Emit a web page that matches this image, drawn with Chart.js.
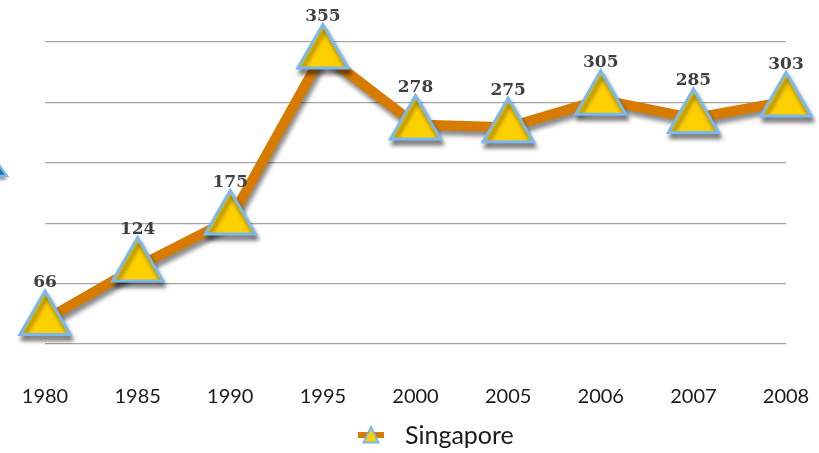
<!DOCTYPE html>
<html>
<head>
<meta charset="utf-8">
<script src="https://cdn.jsdelivr.net/npm/chart.js@4/dist/chart.umd.min.js"></script>
<style>
  html, body { margin: 0; padding: 0; background: #fff; }
  #wrap { width: 819px; height: 453px; }
</style>
</head>
<body>
<div id="wrap"><canvas id="singaporeChart"></canvas></div>
<script>
// data
var years = ["1980", "1985", "1990", "1995", "2000", "2005", "2006", "2007", "2008"];
var singapore = [66, 124, 175, 355, 278, 275, 305, 285, 303];
var gridValues = [40, 105.5, 171, 236.5, 302, 367.5];
var seriesName = "Singapore";

var shadowPlugin = {
  id: 'shadow',
  beforeDatasetsDraw: function(chart) {
    var c = chart.ctx;
    c.save();
    c.shadowColor = 'rgba(0,0,0,0.45)';
    c.shadowBlur = 4;
    c.shadowOffsetX = 2;
    c.shadowOffsetY = 5;
  },
  afterDatasetsDraw: function(chart) {
    chart.ctx.restore();
  }
};

var labelPlugin = {
  id: 'valueLabels',
  afterDatasetsDraw: function(chart) {
    var c = chart.ctx;
    var meta = chart.getDatasetMeta(0);
    c.save();
    c.font = 'bold 17px "DejaVu Serif"';
    c.fillStyle = '#404040';
    c.textAlign = 'center';
    c.textBaseline = 'middle';
    meta.data.forEach(function(pt, i) {
      c.fillText(singapore[i], pt.x, pt.y - 37);
    });
    c.restore();
  }
};

// legend drawn by hand: orange line with a small triangle, then the name
// (plus the clipped teal triangle that peeks in at the left edge)
var legendPlugin = {
  id: 'handLegend',
  afterDraw: function(chart) {
    var c = chart.ctx;
    c.save();
    c.shadowColor = 'rgba(0,0,0,0.4)';
    c.shadowBlur = 3;
    c.shadowOffsetY = 4;
    c.beginPath();
    c.moveTo(-12, 150); c.lineTo(7, 176); c.lineTo(-31, 176); c.closePath();
    c.fillStyle = '#1b7a9e'; c.fill();
    c.shadowColor = 'transparent';
    c.lineWidth = 2.5; c.strokeStyle = '#7ab8f0'; c.stroke();
    c.restore();

    var x = 358, y = 435;
    c.save();
    c.fillStyle = '#d67a00';
    c.fillRect(x, y - 3, 26, 6);
    c.beginPath();
    c.moveTo(x + 13, y - 8); c.lineTo(x + 20.5, y + 7.5); c.lineTo(x + 5.5, y + 7.5); c.closePath();
    c.fillStyle = '#ffd000'; c.fill();
    c.lineWidth = 2; c.strokeStyle = '#7ab8f0'; c.stroke();
    c.font = '25px Lato';
    c.fillStyle = '#1a1a1a';
    c.textBaseline = 'middle';
    c.fillText(seriesName, 405, y + 1);
    c.restore();
  }
};

var ctx = document.getElementById('singaporeChart').getContext('2d');
var chart = new Chart(ctx, {
  type: 'line',
  data: {
    labels: years,
    datasets: [{
      label: seriesName,
      data: singapore,
      borderColor: "#d67a00",
      borderWidth: 10,
      backgroundColor: "#ffd000",
      pointStyle: 'triangle',
      pointRadius: 29,
      pointHoverRadius: 29,
      pointBackgroundColor: "#ffd000",
      pointBorderColor: "#7ab8f0",
      pointBorderWidth: 3,
      tension: 0,
      fill: false,
      clip: false
    }]
  },
  options: {
    responsive: true,
    maintainAspectRatio: false,
    animation: false,
    events: [],
    layout: { autoPadding: false, padding: { top: 42, left: 45, right: 33, bottom: 41 } },
    scales: {
      x: {
        offset: false,
        grid: { display: true, drawOnChartArea: false, color: 'rgba(0,0,0,0)', drawTicks: true, tickLength: 38 },
        border: { display: false },
        ticks: { color: '#1a1a1a', font: { family: 'Lato', size: 20 }, padding: 3, maxRotation: 0 }
      },
      y: {
        min: 40,
        max: 367.5,
        afterBuildTicks: function(scale) {
          scale.ticks = gridValues.map(function(v) { return { value: v }; });
        },
        grid: { color: '#a6a6a6', lineWidth: 1.2, drawTicks: false },
        border: { display: false },
        ticks: { display: false }
      }
    },
    plugins: {
      tooltip: { enabled: false },
      legend: { display: false }
    }
  },
  plugins: [shadowPlugin, labelPlugin, legendPlugin]
});
</script>
</body>
</html>
